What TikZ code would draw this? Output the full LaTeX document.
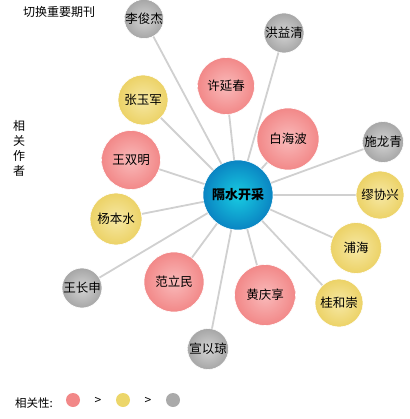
\documentclass[tikz,border=0pt]{standalone}
\usepackage{fontspec}
\setmainfont{Noto Sans CJK SC}
\usetikzlibrary{backgrounds}
\definecolor{redout}{RGB}{242,136,136}
\definecolor{redin}{RGB}{249,186,186}
\definecolor{yelout}{RGB}{236,210,102}
\definecolor{yelin}{RGB}{246,232,164}
\definecolor{gryout}{RGB}{166,166,166}
\definecolor{gryin}{RGB}{212,212,212}
\definecolor{bluout}{RGB}{10,132,194}
\definecolor{bluin}{RGB}{24,204,226}
\definecolor{linkc}{RGB}{208,208,208}
\begin{document}
\begin{tikzpicture}[x=1pt,y=-1pt,
  every node/.style={font=\fontsize{12.5}{14}\selectfont, inner sep=0pt},
  bub/.style={circle, minimum size=#1, draw=white, line width=0.6pt},
  redb/.style={bub=#1, inner color=redin, outer color=redout},
  yelb/.style={bub=#1, inner color=yelin, outer color=yelout},
  gryb/.style={bub=#1, inner color=gryin, outer color=gryout},
  centreb/.style={bub=#1, inner color=bluin, outer color=bluout, font=\fontsize{13}{15}\selectfont\bfseries},
  link/.style={draw=linkc, line width=1.8pt},
  legdot/.style={circle, minimum size=14pt}
]
\useasboundingbox (0,0) rectangle (409,419);
\node[centreb=70pt] (c) at (238,195) {隔水开采};
\node[gryb=38pt] (lj) at (144,19) {李俊杰};
\node[gryb=40pt] (hy) at (284,33) {洪益清};
\node[redb=57pt] (xy) at (226,86) {许延春};
\node[redb=62pt] (bh) at (288,139) {白海波};
\node[gryb=41pt] (sl) at (383,142) {施龙青};
\node[yelb=48pt] (mx) at (380,195) {缪协兴};
\node[yelb=51pt] (ph) at (356,248) {浦海};
\node[yelb=48pt] (gh) at (339,303) {桂和崇};
\node[redb=61pt] (hq) at (265,295) {黄庆享};
\node[gryb=41pt] (xq) at (208,349) {宣以琼};
\node[redb=60pt] (fl) at (174,282) {范立民};
\node[gryb=40pt] (wc) at (82,288) {王长申};
\node[yelb=52pt] (yb) at (116,219) {杨本水};
\node[redb=59pt] (ws) at (131,160) {王双明};
\node[yelb=50pt] (zy) at (143,100) {张玉军};
\begin{scope}[on background layer]
\foreach \n in {lj,hy,xy,bh,sl,mx,ph,gh,hq,xq,fl,wc,yb,ws,zy}{
  \path[link] (c.center) -- (\n.center);
}
\end{scope}
% texts
\node[anchor=west, font=\fontsize{12}{14}\selectfont] (title) at (23,12) {切换重要期刊};
\node[align=center, font=\fontsize{12}{15}\selectfont] (side) at (19,148) {相\\关\\作\\者};
\node[anchor=west, font=\fontsize{11.5}{13}\selectfont] (leg) at (15,403) {相关性:};
\node[legdot, fill=redout] (l1) at (73,400) {};
\node[font=\fontsize{12}{12}\selectfont] (g1) at (98,401) {>};
\node[legdot, fill={rgb,255:red,236;green,214;blue,106}] (l2) at (123,400) {};
\node[font=\fontsize{12}{12}\selectfont] (g2) at (148,401) {>};
\node[legdot, fill={rgb,255:red,170;green,170;blue,170}] (l3) at (173,400) {};
\end{tikzpicture}
\end{document}
